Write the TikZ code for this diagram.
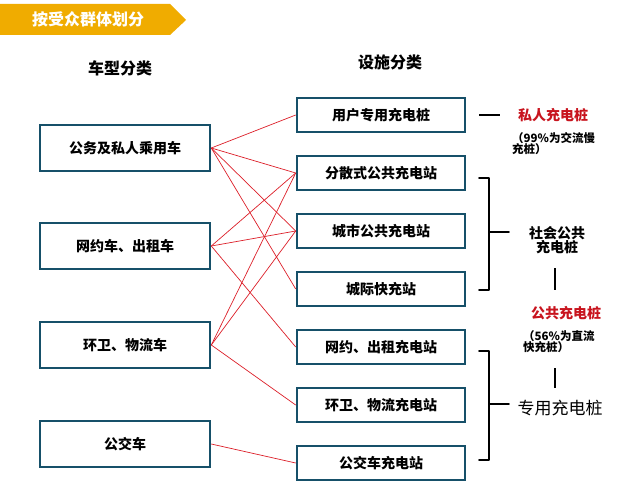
\documentclass[tikz,border=0pt]{standalone}
\usepackage{fontspec}
\setmainfont{Noto Sans CJK SC}
\definecolor{boxc}{RGB}{22,80,105}
\definecolor{linkc}{RGB}{220,30,40}
\definecolor{redt}{RGB}{200,20,30}
\definecolor{gold}{RGB}{240,172,0}
\newcommand{\fs}[1]{\fontsize{#1}{#1}\selectfont}
\begin{document}
\begin{tikzpicture}[x=1pt,y=-1pt,
  lbox/.style={draw=boxc,line width=2.6pt,minimum width=170pt,minimum height=46pt,font=\bfseries\fs{14}},
  rbox/.style={draw=boxc,line width=2.6pt,minimum width=168pt,minimum height=34pt,font=\bfseries\fs{14}},
  link/.style={draw=linkc,line width=0.7pt},
  br/.style={line width=1.8pt,line cap=round,line join=round},
  note/.style={font=\bfseries\fs{11.5},align=left,inner sep=0pt,baseline},
  redl/.style={text=redt,font=\bfseries\itshape\fs{14}}]
\useasboundingbox (0,0) rectangle (628,481);
\fill[gold] (0,4) -- (170,4) -- (186,20) -- (170,35) -- (0,35) -- cycle;
\node[text=white,font=\bfseries\fs{16}] (ban) at (88,19) {按受众群体划分};
\node[font=\bfseries\fs{16}] (h1) at (120,68) {车型分类};
\node[font=\bfseries\fs{16}] (h2) at (390,62) {设施分类};
\node[lbox] (L1) at (125,148) {公务及私人乘用车};
\node[lbox] (L2) at (125,246) {网约车、出租车};
\node[lbox] (L3) at (125,345) {环卫、物流车};
\node[lbox] (L4) at (125,444) {公交车};
\node[rbox] (R1) at (381,115) {用户专用充电桩};
\node[rbox] (R2) at (381,173) {分散式公共充电站};
\node[rbox] (R3) at (381,231) {城市公共充电站};
\node[rbox] (R4) at (381,289) {城际快充站};
\node[rbox] (R5) at (381,347) {网约、出租充电站};
\node[rbox] (R6) at (381,405) {环卫、物流充电站};
\node[rbox] (R7) at (381,463) {公交车充电站};
\foreach \a/\b in {L1/R1,L1/R2,L1/R3,L1/R4,L2/R2,L2/R3,L2/R5,L3/R2,L3/R3,L3/R6,L4/R7}
  \draw[link] (\a.east) -- (\b.west);
\coordinate (m1) at (479,115);
\coordinate (m2) at (500,115);
\draw[line width=1.2pt] (m1) -- (m2);
\node[redl] (pc) at (553,115) {私人充电桩};
\node[note,anchor=north west] (pcn) at (512,132) {（99\%为交流慢\\充桩）};
\draw[br] (479,178) -- (489,178) -- (489,290) -- (479,290);
\coordinate (b1a) at (489,232); \coordinate (b1b) at (509,232);
\draw[br] (b1a) -- (b1b);
\node[font=\bfseries\fs{14},align=center] (sh) at (557,240) {社会公共\\充电桩};
\coordinate (v1a) at (555,268); \coordinate (v1b) at (555,290);
\draw[line width=1.2pt] (v1a) -- (v1b);
\node[redl] (gc) at (566,313) {公共充电桩};
\node[note,anchor=north west] (gcn) at (523,330) {（56\%为直流\\快充桩）};
\coordinate (v2a) at (555,368); \coordinate (v2b) at (555,388);
\draw[line width=1.2pt] (v2a) -- (v2b);
\draw[br] (479,351) -- (489,351) -- (489,460) -- (479,460);
\coordinate (b2a) at (489,404); \coordinate (b2b) at (509,404);
\draw[br] (b2a) -- (b2b);
\node[font=\fs{17}] (zy) at (560,408) {专用充电桩};
\end{tikzpicture}
\end{document}
